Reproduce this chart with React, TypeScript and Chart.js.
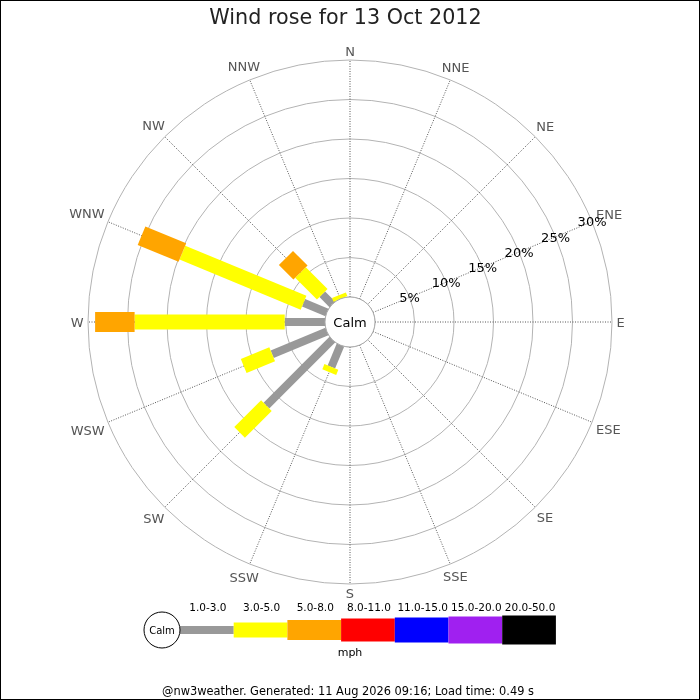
import { useEffect, useRef } from "react";
import { Chart, registerables } from "chart.js";

Chart.register(...registerables);

// compass points, clockwise from north
const directions = ["N", "NNE", "NE", "ENE", "E", "ESE", "SE", "SSE", "S", "SSW", "SW", "WSW", "W", "WNW", "NW", "NNW"];
const speedBands = ["1.0-3.0", "3.0-5.0", "5.0-8.0", "8.0-11.0", "11.0-15.0", "15.0-20.0", "20.0-50.0"];

// % of the day per direction, one array per speed band (mph)
const band1to3 = [0, 0, 0, 0, 0, 0, 0, 0, 0, 3.0, 11.8, 7.5, 5.1, 3.2, 1.8, 0];
const band3to5 = [0, 0, 0, 0, 0, 0, 0, 0, 0, 0.7, 4.8, 3.9, 19.0, 16.6, 3.9, 0.5];
const band5to8 = [0, 0, 0, 0, 0, 0, 0, 0, 0, 0, 0, 0, 5.0, 5.6, 2.6, 0];
const band8to11 = [0, 0, 0, 0, 0, 0, 0, 0, 0, 0, 0, 0, 0, 0, 0, 0];
const band11to15 = [0, 0, 0, 0, 0, 0, 0, 0, 0, 0, 0, 0, 0, 0, 0, 0];
const band15to20 = [0, 0, 0, 0, 0, 0, 0, 0, 0, 0, 0, 0, 0, 0, 0, 0];
const band20to50 = [0, 0, 0, 0, 0, 0, 0, 0, 0, 0, 0, 0, 0, 0, 0, 0];

// ring ticks (%)
const ringStep = 5;
const ringMax = 30;

const titleText = "Wind rose for 13 Oct 2012";
const footerText = "@nw3weather. Generated: 11 Aug 2026 09:16; Load time: 0.49 s";

const bandColors = ["#999999", "#ffff00", "#ffa500", "#ff0000", "#0000ff", "#a020f0", "#000000"];
const bandWidths = [8, 15, 20, 23, 25, 27, 29];

const FONT = "'DejaVu Sans', sans-serif";
const CALM_PX = 25; // radius of calm circle
const OUTER_PX = 262; // radius of outer ring

const roseRenderer = {
  id: "roseRenderer",
  afterDatasetsDraw(chart: any) {
    const scale = chart.scales.r;
    const ctx = chart.ctx as CanvasRenderingContext2D;
    ctx.save();

    // stacked bars
    directions.forEach((_, i) => {
      let base = 0;
      chart.data.datasets.forEach((ds: any, k: number) => {
        const v = ds.data[i] as number;
        if (!v) return;
        const a = scale.getPointPositionForValue(i, base);
        const b = scale.getPointPositionForValue(i, base + v);
        ctx.beginPath();
        ctx.moveTo(a.x, a.y);
        ctx.lineTo(b.x, b.y);
        ctx.strokeStyle = bandColors[k];
        ctx.lineWidth = bandWidths[k];
        ctx.lineCap = "butt";
        ctx.stroke();
        base += v;
      });
    });

    // calm circle
    const calmR = scale.getDistanceFromCenterForValue(0);
    ctx.beginPath();
    ctx.arc(scale.xCenter, scale.yCenter, calmR, 0, Math.PI * 2);
    ctx.fillStyle = "#ffffff";
    ctx.fill();
    ctx.strokeStyle = "#aaaaaa";
    ctx.lineWidth = 1;
    ctx.stroke();
    ctx.font = `13px ${FONT}`;
    ctx.fillStyle = "#000000";
    ctx.textAlign = "center";
    ctx.textBaseline = "alphabetic";
    ctx.fillText("Calm", scale.xCenter, scale.yCenter + 4.75);

    // compass labels
    const outer = scale.drawingArea;
    ctx.fillStyle = "#555555";
    directions.forEach((label, i) => {
      const p0 = scale.getPointPosition(i, outer);
      const dx = (p0.x - scale.xCenter) / outer;
      const dy = (p0.y - scale.yCenter) / outer;
      const w = ctx.measureText(label).width;
      const off = 4.5 + (Math.abs(dx) * w) / 2 + (Math.abs(dy) * 9.5) / 2;
      const p = scale.getPointPosition(i, outer + off);
      ctx.fillText(label, p.x, p.y + 4.75);
    });

    // percentage labels along ENE
    ctx.fillStyle = "#000000";
    scale.ticks.forEach((t: any) => {
      if (t.value <= 0) return;
      const p = scale.getPointPositionForValue(3, t.value);
      ctx.fillText(`${t.value}%`, p.x, p.y + 4.75);
    });
    ctx.restore();
  },
  afterDraw(chart: any) {
    const ctx = chart.ctx as CanvasRenderingContext2D;
    ctx.save();
    ctx.textAlign = "center";
    ctx.textBaseline = "alphabetic";

    // title
    ctx.fillStyle = "#222222";
    ctx.font = `20.7px ${FONT}`;
    ctx.fillText(titleText, 345.5, 24.3);

    // speed legend
    const cx = 162;
    const cy = 630;
    const segW = 53.7;
    const x0 = 180;
    bandColors.forEach((c, k) => {
      ctx.fillStyle = c;
      ctx.fillRect(x0 + k * segW, cy - bandWidths[k] / 2, segW, bandWidths[k]);
    });
    ctx.beginPath();
    ctx.arc(cx, cy, 18, 0, Math.PI * 2);
    ctx.fillStyle = "#ffffff";
    ctx.fill();
    ctx.strokeStyle = "#000000";
    ctx.lineWidth = 1;
    ctx.stroke();
    ctx.fillStyle = "#000000";
    ctx.font = `10px ${FONT}`;
    ctx.fillText("Calm", cx, cy + 3.6);
    ctx.font = `10.5px ${FONT}`;
    speedBands.forEach((s, k) => {
      ctx.fillText(s, x0 + k * segW + segW / 2 + 1, 611);
    });
    ctx.font = `11px ${FONT}`;
    ctx.fillText("mph", 350, 656);
    ctx.font = `11.4px ${FONT}`;
    ctx.fillText(footerText, 348, 695);
    // frame
    ctx.strokeStyle = "#000000";
    ctx.strokeRect(0.5, 0.5, 699, 699);
    ctx.restore();
  },
};

export default function App() {
  const canvasRef = useRef<HTMLCanvasElement | null>(null);
  const chartRef = useRef<Chart | null>(null);

  useEffect(() => {
    if (!canvasRef.current) return;
    if (chartRef.current) chartRef.current.destroy();

    const bands = [band1to3, band3to5, band5to8, band8to11, band11to15, band15to20, band20to50];
    const calmValue = -(ringMax * CALM_PX) / (OUTER_PX - CALM_PX);

    chartRef.current = new Chart(canvasRef.current, {
      type: "radar",
      data: {
        labels: directions,
        datasets: bands.map((d, k) => ({
          label: speedBands[k],
          data: d,
          showLine: false,
          fill: false,
          borderWidth: 0,
          pointRadius: 0,
          pointHoverRadius: 0,
          pointHitRadius: 0,
          backgroundColor: bandColors[k],
          borderColor: bandColors[k],
        })),
      },
      options: {
        responsive: false,
        animation: false,
        layout: { padding: { left: 88, right: 88, top: 60, bottom: 116 } },
        plugins: {
          legend: { display: false },
          tooltip: { enabled: false },
          title: { display: false },
        },
        scales: {
          r: {
            min: calmValue,
            max: ringMax,
            ticks: { display: false, stepSize: ringStep },
            pointLabels: { display: false },
            grid: { circular: true, color: "#b3b3b3", lineWidth: 1 },
            angleLines: { color: "#555555", lineWidth: 1, borderDash: [1, 1.5] },
          },
        },
      } as any,
      plugins: [roseRenderer],
    });

    return () => {
      if (chartRef.current) {
        chartRef.current.destroy();
        chartRef.current = null;
      }
    };
  }, []);

  return (
    <div style={{ position: "absolute", left: 0, top: 0, width: 700, height: 700, background: "#ffffff" }}>
      <canvas ref={canvasRef} width={700} height={700} style={{ display: "block" }} />
    </div>
  );
}
